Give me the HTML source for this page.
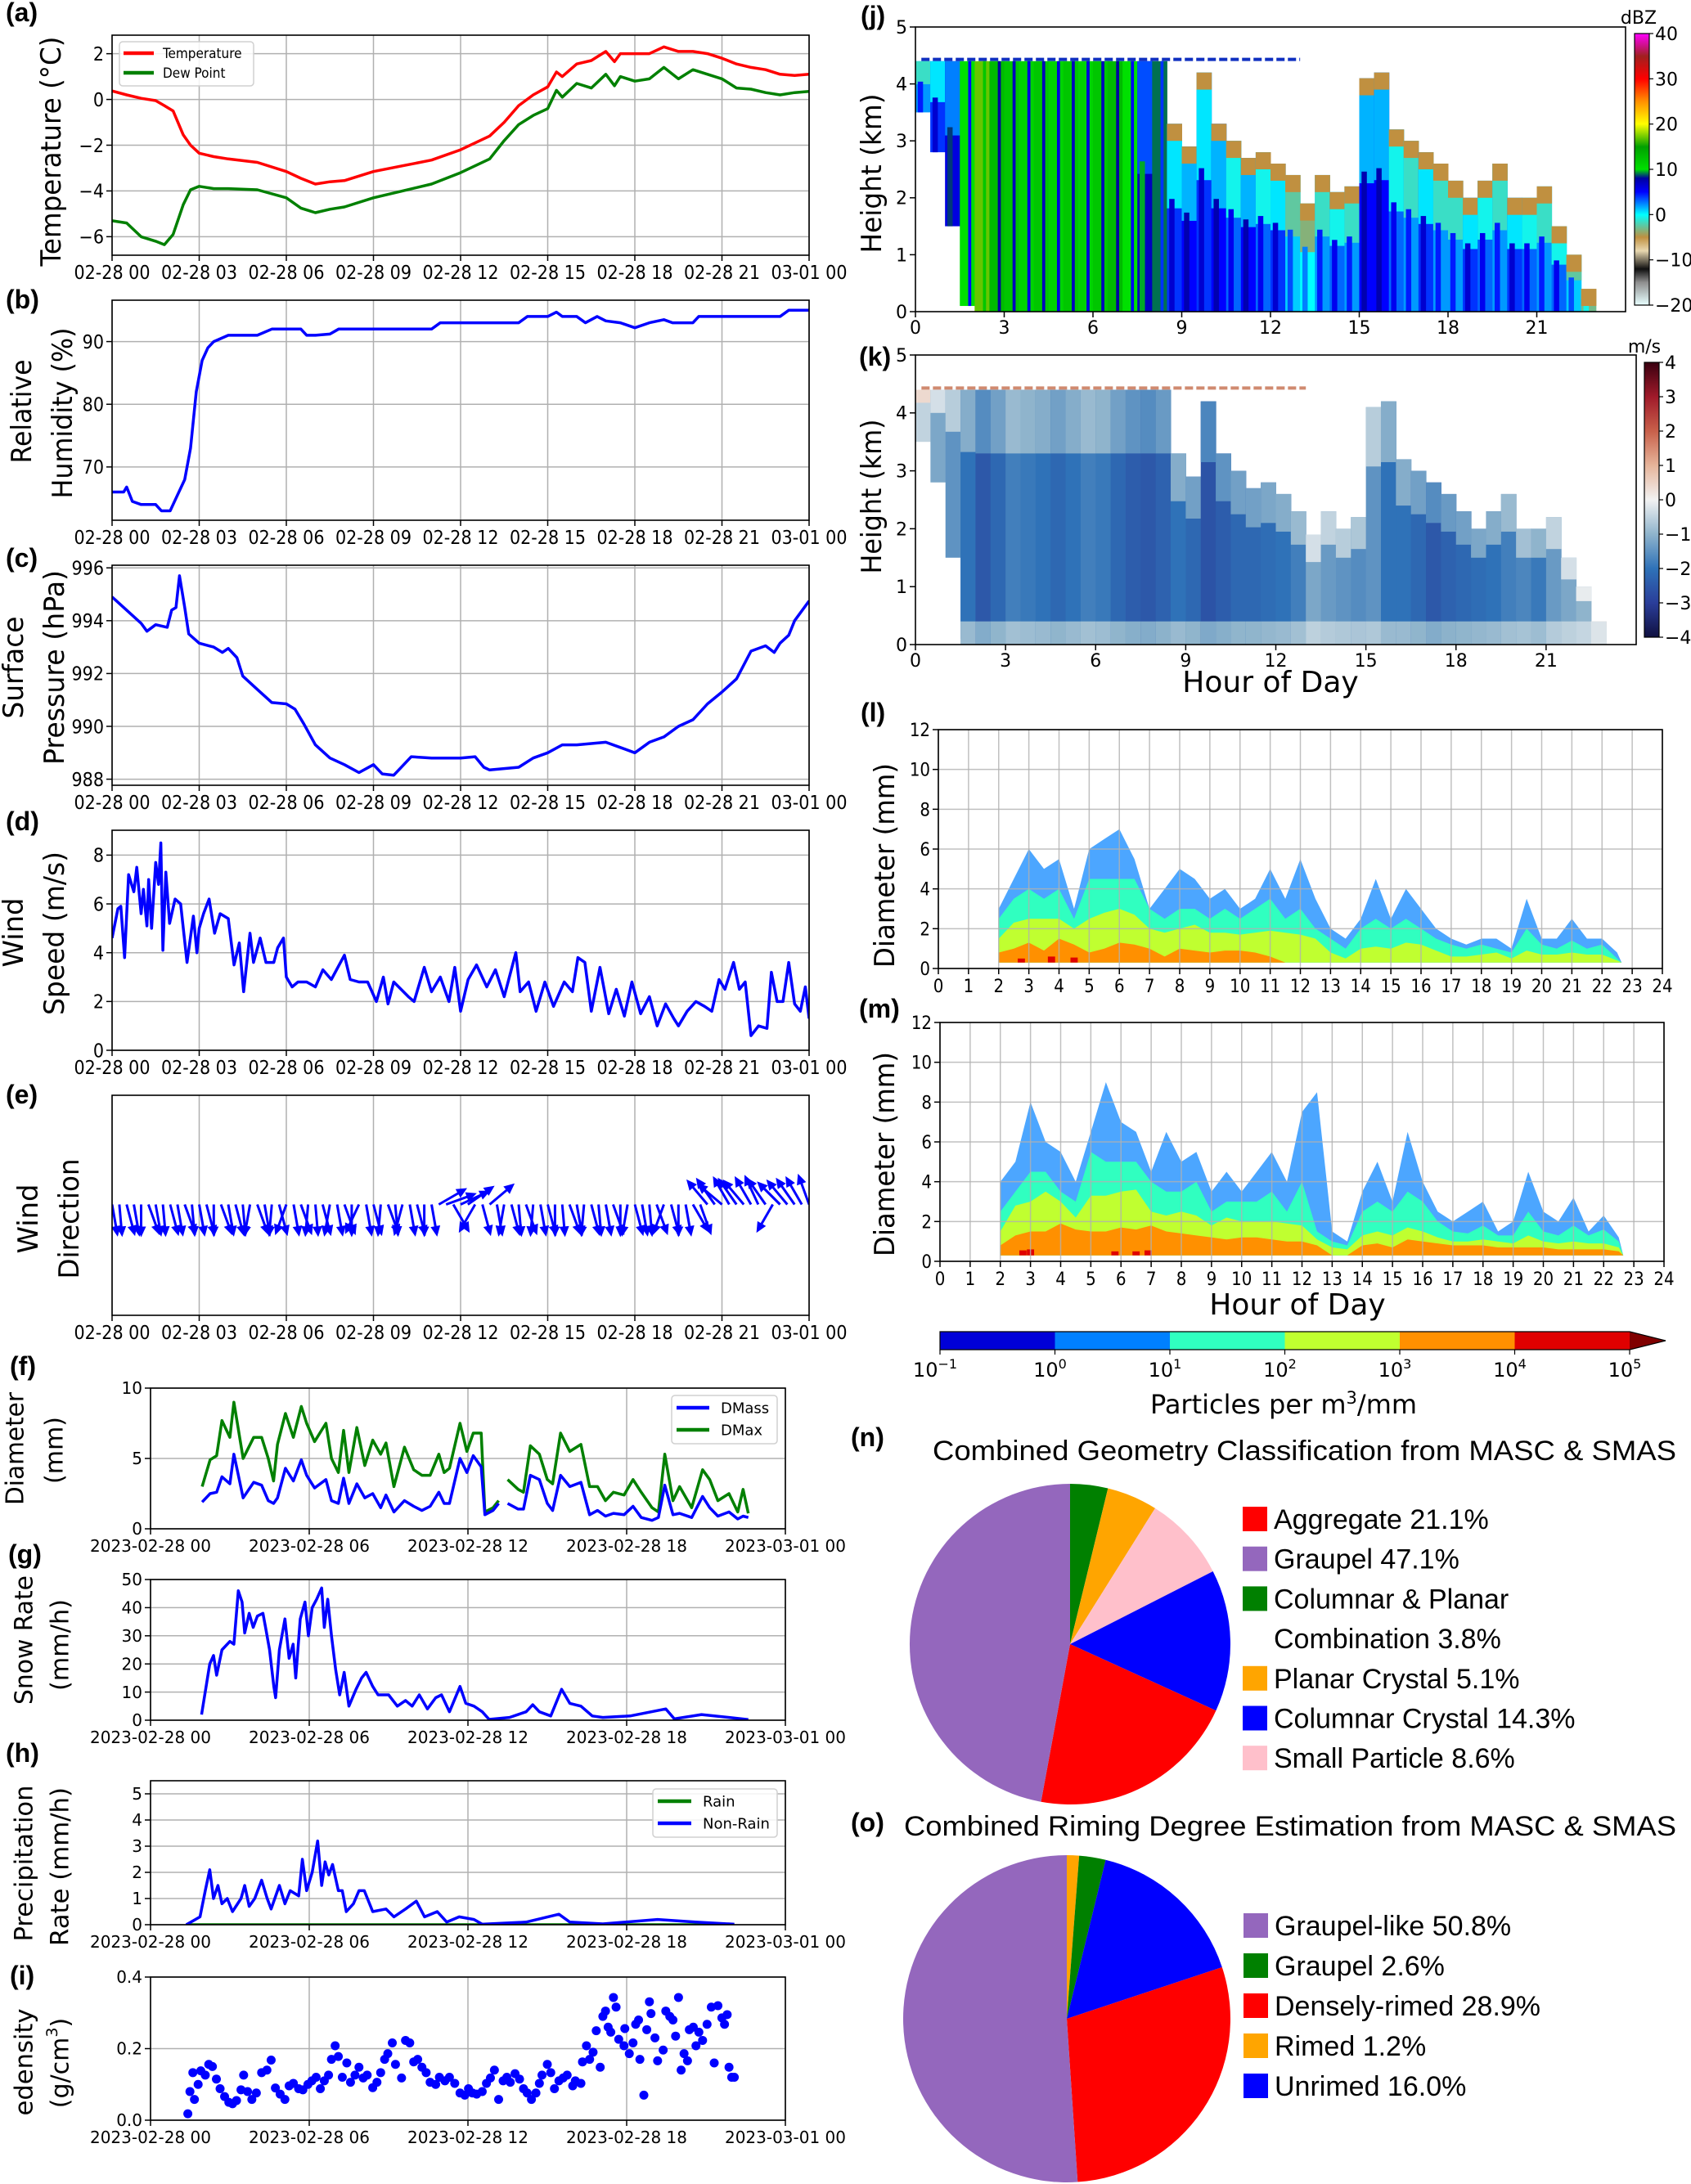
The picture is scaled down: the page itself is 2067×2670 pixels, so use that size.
<!DOCTYPE html>
<html><head><meta charset="utf-8">
<style>
html,body{margin:0;padding:0;background:#fff;}
svg{display:block;}
text{font-family:"DejaVu Sans","Liberation Sans",sans-serif;fill:#000;}
.cond{font-family:"Liberation Sans Narrow","DejaVu Sans Condensed","Liberation Sans",sans-serif;}
.cal{font-family:"Liberation Sans",sans-serif;}
.lbl{font-family:"Liberation Sans",sans-serif;font-weight:bold;}
</style></head>
<body>
<svg id="fig" xmlns="http://www.w3.org/2000/svg" width="2067" height="2670" viewBox="0 0 2067 2670"><defs id="defs"></defs><rect x="0" y="0" width="2067" height="2670" fill="#fff"/></svg>
<script>
// ---------------- DATA ----------------
const tA=[0,0.5,1,1.5,1.8,2.1,2.45,2.7,3,3.5,4,5,6,6.5,7,7.5,8,9,10,11,12,13,13.5,14,14.5,15,15.3,15.5,16,16.5,17,17.3,17.5,18,18.5,19,19.5,20,20.5,21,21.5,22,22.5,23,23.5,24];
const tempA=[0.37,0.2,0.05,-0.05,-0.27,-0.5,-1.55,-2.0,-2.35,-2.5,-2.6,-2.75,-3.15,-3.45,-3.7,-3.6,-3.55,-3.15,-2.9,-2.65,-2.2,-1.6,-1.0,-0.27,0.2,0.55,1.2,1.0,1.55,1.7,2.1,1.65,2.0,2.0,2.0,2.3,2.1,2.1,2.0,1.8,1.55,1.4,1.3,1.1,1.05,1.1];
const dewA=[-5.3,-5.4,-6.0,-6.2,-6.35,-5.9,-4.6,-3.95,-3.8,-3.9,-3.9,-3.95,-4.3,-4.75,-4.95,-4.8,-4.7,-4.3,-4.0,-3.7,-3.2,-2.6,-1.8,-1.1,-0.7,-0.4,0.4,0.1,0.7,0.5,1.1,0.6,1.0,0.8,0.9,1.4,0.9,1.3,1.1,0.9,0.5,0.45,0.3,0.2,0.3,0.35];
const tB=[0,0.4,0.5,0.7,1,1.5,1.7,2,2.2,2.5,2.7,2.9,3.1,3.3,3.5,4,5,5.5,6,6.5,6.7,7,7.5,7.8,11,11.3,14,14.3,15,15.3,15.5,16,16.3,16.7,17,17.5,18,18.5,19,19.3,20,20.2,23,23.3,24];
const rhB=[66,66,66.8,64.5,64,64,63,63,65,68,73,82,87,89,90,91,91,92,92,92,91,91,91.2,92,92,93,93,94,94,94.7,94,94,93,94,93.3,93,92.2,93,93.5,93,93,94,94,95,95];
const tC=[0,0.5,1,1.2,1.5,1.9,2.05,2.2,2.32,2.5,2.64,3,3.5,3.8,4,4.3,4.5,5,5.5,6,6.3,6.6,7,7.5,8,8.5,9,9.3,9.7,10,10.3,11,12,12.5,12.8,13,14,14.5,15,15.5,16,17,17.5,18,18.5,19,19.5,20,20.5,21,21.5,22,22.5,22.8,23,23.3,23.5,24];
const presC=[994.9,994.4,993.9,993.6,993.85,993.75,994.4,994.5,995.7,994.5,993.5,993.15,993.0,992.8,992.95,992.6,991.9,991.4,990.9,990.85,990.65,990.1,989.3,988.8,988.55,988.25,988.55,988.2,988.15,988.5,988.85,988.8,988.8,988.85,988.45,988.35,988.45,988.8,989.0,989.3,989.3,989.4,989.2,989.0,989.4,989.6,990.0,990.25,990.85,991.3,991.8,992.85,993.05,992.8,993.15,993.45,994.0,994.75];
const tD=[0,0.2,0.3,0.43,0.57,0.75,0.85,1.0,1.08,1.2,1.26,1.36,1.5,1.6,1.68,1.75,1.85,1.98,2.17,2.36,2.58,2.8,2.92,3.0,3.15,3.34,3.53,3.72,4.0,4.2,4.38,4.53,4.75,4.87,5.1,5.3,5.57,5.7,5.9,6.0,6.2,6.4,6.7,7.0,7.26,7.55,8.0,8.2,8.5,8.8,9.1,9.34,9.5,9.7,10.2,10.4,10.75,11.0,11.3,11.6,11.8,12.0,12.26,12.55,12.9,13.2,13.5,13.9,14.05,14.34,14.6,14.9,15.2,15.57,15.85,16.04,16.28,16.5,16.8,17.1,17.36,17.64,17.9,18.2,18.5,18.77,19.06,19.34,19.5,19.8,20.1,20.4,20.65,20.9,21.1,21.4,21.6,21.8,22.0,22.26,22.55,22.7,22.9,23.1,23.3,23.5,23.7,23.87,24];
const windD=[4.6,5.8,5.9,3.8,7.2,6.5,7.5,5.6,6.6,5.1,7.0,5.0,7.7,6.8,8.5,4.1,7.3,5.2,6.2,6.0,3.6,5.5,4.0,5.0,5.6,6.2,4.8,5.6,5.4,3.5,4.4,2.4,4.8,3.6,4.6,3.6,3.6,4.2,4.6,3.0,2.6,2.8,2.8,2.6,3.3,2.9,3.9,2.9,2.8,2.8,2.0,3.0,1.9,2.8,2.2,2.0,3.4,2.4,3.0,2.0,3.4,1.6,2.9,3.5,2.6,3.3,2.2,4.0,2.4,2.8,1.6,2.8,1.8,2.8,2.4,3.8,3.6,1.6,3.4,1.5,2.5,1.4,2.8,1.5,2.2,1.0,1.9,1.3,1.0,1.6,2.0,1.8,1.6,2.9,2.5,3.6,2.5,2.8,0.6,1.0,0.9,3.2,2.0,2.0,3.6,1.9,1.6,2.6,1.3];
const eStepHours=0.25;
const eArrowAngle=[80,85,75,80,90,70,80,85,75,80,70,85,80,75,90,70,80,75,85,100,70,80,95,75,110,80,70,95,85,75,100,80,70,90,115,80,75,95,70,85,105,80,75,90,80,
 -30,-20,60,-25,-35,120,75,-40,
 80,100,75,85,70,95,80,75,90,85,70,80,95,75,85,80,70,90,100,75,80,85,70,110,75,90,80,60,70,
 -130,-125,-140,-120,-125,-130,-120,-115,-125,120,-135,-130,-125,-120,-110];
const tF=[1.95,2.25,2.5,2.7,3.0,3.15,3.5,3.9,4.2,4.45,4.65,4.8,5.1,5.4,5.7,5.9,6.2,6.63,6.84,7.1,7.3,7.5,7.8,8.1,8.4,8.7,8.9,9.2,9.6,9.95,10.26,10.57,10.9,11.1,11.3,11.7,11.96,12.2,12.5,12.64,12.95,13.16,13.3,13.5,13.9,14.1,14.36,14.7,15.0,15.2,15.5,15.85,16.27,16.6,16.9,17.2,17.5,17.9,18.24,18.55,18.96,19.2,19.44,19.75,20.0,20.46,20.87,21.14,21.45,21.87,22.2,22.4,22.6];
const dmaxF=[3.0,4.9,5.2,7.7,6.5,9.0,5.0,6.5,6.5,5.0,3.4,6.0,8.2,6.5,8.7,7.5,6.2,7.5,5.0,4.0,7.0,4.0,7.2,4.5,6.3,5.3,6.1,3.0,5.8,4.2,3.8,3.8,5.3,4.0,4.3,7.5,5.5,6.8,6.8,1.2,1.5,2.0,null,3.5,2.8,2.6,5.9,5.3,3.5,3.2,6.8,5.5,6.0,3.0,3.0,2.0,2.6,2.4,3.5,2.6,1.5,1.2,5.3,2.0,3.0,1.5,4.2,3.5,2.0,2.5,1.2,2.8,1.1];
const dmassF=[1.9,2.5,2.6,3.7,3.2,5.3,2.2,3.3,3.1,2.0,1.8,2.2,4.3,3.4,4.9,3.8,2.9,3.5,2.0,1.8,3.6,1.8,3.2,2.2,2.5,1.5,2.4,1.2,2.0,1.6,1.3,1.6,2.6,1.8,1.8,5.0,4.0,5.2,4.4,1.0,1.3,1.8,null,1.8,1.4,1.4,3.8,3.5,1.8,1.3,3.8,3.0,3.3,1.0,1.3,0.9,1.1,1.0,1.6,0.8,0.6,0.8,3.1,1.0,1.1,0.8,2.3,1.5,0.9,1.2,0.7,0.9,0.8];
const tG=[1.93,2.24,2.38,2.5,2.7,3.0,3.15,3.32,3.46,3.56,3.73,3.88,4.04,4.25,4.35,4.5,4.66,4.73,4.87,5.08,5.24,5.39,5.49,5.66,5.84,5.97,6.11,6.28,6.47,6.57,6.7,6.84,7.0,7.15,7.32,7.5,7.77,7.98,8.15,8.4,8.6,9.0,9.33,9.64,9.89,10.16,10.47,10.78,11.0,11.3,11.7,11.92,12.23,12.54,12.8,13.57,14.2,14.45,14.7,15.13,15.54,15.85,16.27,16.7,17.1,18.13,19.48,19.8,20.83,21.87,22.6];
const snowG=[2,20,23,16,25,28,27,46,42,31,38,33,37,38,33,25,12,8,25,36,22,27,15,36,42,30,40,43,47,33,43,30,18,9,17,5,11,15,17,12,9,9,5,7,5,9,4,8,9,3,12,6,5,3,0.3,1,3,5.5,3,1.5,11,6,5,1.5,1,1.5,4,0.5,2,1,0.2];
const tH=[1.35,1.87,2.07,2.24,2.38,2.55,2.7,2.9,3.1,3.42,3.56,3.73,3.94,4.2,4.41,4.56,4.87,5.08,5.28,5.6,5.74,5.9,6.11,6.32,6.47,6.6,6.74,6.88,7.1,7.25,7.4,7.67,7.88,8.08,8.4,8.9,9.2,9.64,10.05,10.36,10.84,11.2,11.67,12.23,12.54,14.2,15.44,15.85,17.1,19.17,20.6,22.07];
const nonRainH=[0,0.3,1.3,2.1,1.0,1.5,0.8,1.0,0.5,1.0,1.5,0.7,1.0,1.7,1.0,0.6,1.5,0.8,1.3,1.1,2.5,1.3,2.0,3.2,1.5,2.4,1.9,2.3,1.3,1.3,0.5,0.8,1.3,1.3,0.5,0.6,0.3,0.6,0.9,0.3,0.5,0.1,0.3,0.2,0.02,0.1,0.4,0.1,0.03,0.2,0.1,0.02];
const tRain=[1.35,22.07];
const rainH=[0,0];
const tI=[1.41,1.49,1.6,1.66,1.8,1.9,2.07,2.2,2.34,2.49,2.63,2.8,2.96,3.1,3.25,3.42,3.52,3.67,3.83,4.0,4.2,4.4,4.56,4.72,4.9,5.08,5.24,5.4,5.6,5.76,5.95,6.1,6.26,6.42,6.57,6.73,6.84,6.98,7.1,7.25,7.42,7.56,7.73,7.88,8.04,8.19,8.4,8.56,8.7,8.85,8.97,9.14,9.26,9.49,9.64,9.8,9.95,10.1,10.26,10.42,10.57,10.78,10.92,11.13,11.3,11.5,11.7,11.88,12.02,12.17,12.33,12.54,12.7,12.85,13.0,13.16,13.33,13.47,13.6,13.78,13.95,14.1,14.24,14.4,14.57,14.7,14.8,15.0,15.13,15.27,15.44,15.6,15.75,15.96,16.06,16.27,16.33,16.48,16.6,16.73,16.85,17.0,17.1,17.2,17.3,17.4,17.5,17.6,17.7,17.9,17.93,18.1,18.24,18.34,18.45,18.5,18.65,18.76,18.86,18.92,19.07,19.17,19.38,19.48,19.63,19.75,19.85,19.96,20.06,20.17,20.3,20.37,20.52,20.62,20.73,20.87,21.04,21.2,21.31,21.45,21.6,21.7,21.8,21.87,21.97,22.07];
const densI=[0.018,0.08,0.133,0.058,0.10,0.138,0.126,0.156,0.15,0.115,0.088,0.066,0.05,0.046,0.055,0.085,0.126,0.08,0.058,0.076,0.133,0.14,0.168,0.09,0.073,0.058,0.096,0.103,0.088,0.085,0.1,0.11,0.12,0.088,0.11,0.126,0.17,0.208,0.178,0.12,0.16,0.106,0.126,0.148,0.118,0.126,0.091,0.106,0.133,0.17,0.186,0.216,0.156,0.118,0.223,0.216,0.163,0.17,0.148,0.133,0.106,0.1,0.12,0.11,0.12,0.103,0.076,0.07,0.088,0.076,0.073,0.08,0.103,0.118,0.14,0.058,0.11,0.12,0.106,0.13,0.115,0.088,0.076,0.058,0.076,0.103,0.126,0.156,0.133,0.088,0.11,0.118,0.126,0.096,0.11,0.103,0.163,0.208,0.17,0.19,0.25,0.148,0.29,0.305,0.26,0.246,0.343,0.316,0.226,0.208,0.256,0.186,0.216,0.268,0.28,0.17,0.07,0.253,0.331,0.298,0.23,0.166,0.196,0.305,0.29,0.28,0.235,0.343,0.14,0.186,0.166,0.253,0.26,0.208,0.246,0.223,0.268,0.316,0.16,0.32,0.286,0.268,0.295,0.148,0.12,0.12];
const radarStepHours=0.5;
const jTop=[4.4,4.4,4.4,4.4,4.4,4.4,4.4,4.4,4.4,4.4,4.4,4.4,4.4,4.4,4.4,4.4,4.4,3.3,2.9,4.2,3.3,3.0,2.7,2.8,2.6,2.4,1.9,2.4,2.1,2.2,4.1,4.2,3.2,3.0,2.8,2.6,2.3,2.0,2.3,2.6,2.0,2.0,2.2,1.5,1.0,0.4];
const jBot=[3.5,2.8,1.5,0.1,0,0,0,0,0,0,0,0,0,0,0,0,0,0,0,0,0,0,0,0,0,0,0,0,0,0,0,0,0,0,0,0,0,0,0,0,0,0,0,0,0,0];
const jDbz=[2,4,6,10,17,13,12,11,12,11,12,11,12,13,10,7,9,4,5,4,5,3,5,3,4,1,0,2,3,2,5,5,3,2,4,2,2,4,3,2,4,3,2,3,1,-3];
const kTop=[4.4,4.4,4.4,4.4,4.4,4.4,4.4,4.4,4.4,4.4,4.4,4.4,4.4,4.4,4.4,4.4,4.4,3.3,2.9,4.2,3.3,3.0,2.7,2.8,2.6,2.3,1.9,2.3,2.0,2.2,4.1,4.2,3.2,3.0,2.8,2.6,2.3,2.0,2.3,2.6,2.0,2.0,2.2,1.5,1.0,0.4];
const kBot=[3.5,2.8,1.5,0.1,0,0,0,0,0,0,0,0,0,0,0,0,0,0,0,0,0,0,0,0,0,0,0,0,0,0,0,0,0,0,0,0,0,0,0,0,0,0,0,0,0,0];
const kVel=[-0.5,-1.2,-1.5,-2.0,-2.5,-2.2,-1.8,-1.9,-2.0,-2.2,-2.0,-1.8,-1.9,-2.2,-2.4,-2.5,-2.3,-2.0,-2.2,-2.6,-2.4,-2.2,-2.2,-2.1,-2.0,-1.8,-1.2,-1.4,-1.5,-1.6,-1.5,-2.0,-2.0,-2.2,-2.5,-2.3,-2.2,-2.1,-2.0,-1.8,-1.7,-1.9,-1.4,-1.2,-1.0,-0.5];
const dbzStopV=[-20,-15,-12,-8,-5,0,5,8,10,15,20,25,30,35,40];
const dbzStopC=['#e8ffff','#909090','#101010','#e8d8b0','#c09040','#00ffff','#0000ff','#0000a0','#00e000','#00a000','#ffff00','#ff9000','#ff0000','#a02020','#ff00ff'];
const velStopV=[-4,-3,-2,-1,0,1,2,3,4];
const velStopC=['#101040','#2a3e9a','#2f72b8','#8fb4cc','#f2f2f2','#e6b49a','#c8604a','#a01a2a','#3a0010'];
const psdStart=2.0, psdStep=0.5;
const lBlue=[3,4.5,6,5,5.5,3,6,6.5,7,5.5,3,4,5,4.5,3.5,4,3,3.5,5,3.5,5.5,3.5,2,1.5,2.5,4.5,2.5,4,3,2,1.5,1.2,1.5,1.5,1.0,3.5,1.5,1.5,2.5,1.5,1.5,0.8];
const lCyan=[2.5,3.5,4,3.5,4,2.5,4.5,4.5,4.5,4.5,3,2.5,3,3,2.5,3,2.5,3,3.5,2.5,3,2,1.5,1.0,2.0,2.5,2,2.5,2,1.5,1.2,1.0,1.2,1.0,0.8,2.0,1.2,1.0,1.4,1.0,1.2,0.5];
const lYG=[1.5,2.3,2.5,2.5,2.5,2.0,2.5,2.8,3.0,2.7,2.0,1.8,2.0,2.2,1.8,1.8,1.7,1.8,1.9,1.8,1.7,1.5,0.8,0.5,1.0,1.1,1.0,1.3,1.2,0.9,0.6,0.6,0.7,0.8,0.5,0.9,0.7,0.7,0.8,0.7,0.7,0.4];
const lOrange=[0.8,1.0,1.3,0.9,1.5,1.2,0.8,1.0,1.3,1.2,1.0,0.6,1.0,0.9,0.8,0.9,0.9,0.8,0.6,0.3,0.3,0.3,0.3,0.3,0.3,0.3,0.3,0.3,0.3,0.3,0.3,0.3,0.3,0.3,0.3,0.3,0.3,0.3,0.3,0.3,0.3,0.3];
const lRedT=[2.75,3.75,4.5];
const lRedTop=[0.5,0.6,0.55];
const mBlue=[4,5,8,6,5.5,4,6.5,9,7,6.5,4.5,6.5,5,5.5,3.5,4.5,3.5,4.5,5.5,4,7.5,8.5,1.5,1.0,3.5,5,3,6.5,4,2.5,2,2.5,3.0,1.5,2,4.5,2.5,2,3.2,1.5,2.3,1.2];
const mCyan=[2.5,3.5,4.5,4.5,3.5,3,5.5,5,5,5,4,3.5,3.5,4,2.5,3,3,3,3.5,2.5,4,1.5,1.0,0.8,2.5,3,2.5,3.5,3,2.0,1.5,1.4,1.8,1.3,1.3,2.5,1.5,1.3,1.8,1.3,1.6,1.0];
const mYG=[1.5,2.8,3.0,3.5,3.0,2.2,3.3,3.3,3.5,3.6,2.5,2.3,2.5,2.3,1.8,2.2,2.0,2.0,2.0,1.9,1.8,1.1,0.7,0.6,1.3,1.5,1.3,1.7,1.5,1.2,1.0,1.0,1.1,1.0,0.9,1.3,1.0,0.9,1.0,0.9,0.9,0.7];
const mOrange=[0.8,1.3,1.5,1.5,1.9,1.6,1.5,1.5,1.7,1.6,1.8,1.5,1.4,1.3,1.2,1.1,1.2,1.2,1.1,1.0,1.0,0.8,0.3,0.3,0.8,0.9,0.7,1.1,1.0,0.9,0.8,0.8,0.8,0.7,0.7,0.7,0.7,0.6,0.6,0.6,0.6,0.5];
const mRedT=[2.75,3.0,5.8,6.5,6.9];
const mRedTop=[0.55,0.6,0.5,0.5,0.55];
const psdLevelColors=['#0000d8','#0080ff','#30ffc0','#c0ff30','#ff9000','#e00000'];
const psdLevelExp=['−1','0','1','2','3','4','5'];
const geomCats=['Aggregate','Graupel','Columnar & Planar\nCombination','Planar Crystal','Columnar Crystal','Small Particle'];
const geomVals=[21.1,47.1,3.8,5.1,14.3,8.6];
const geomColors=['#ff0000','#9467bd','#008000','#ffa500','#0000ff','#ffc0cb'];
const geomPieOrder=[2,3,5,4,0,1];
const rimeCats=['Graupel-like','Graupel','Densely-rimed','Rimed','Unrimed'];
const rimeVals=[50.8,2.6,28.9,1.2,16.0];
const rimeColors=['#9467bd','#008000','#ff0000','#ffa500','#0000ff'];
const rimePieOrder=[3,1,4,2,0];
const xLabelsTop=['02-28 00','02-28 03','02-28 06','02-28 09','02-28 12','02-28 15','02-28 18','02-28 21','03-01 00'];
const xLabelsLow=['2023-02-28 00','2023-02-28 06','2023-02-28 12','2023-02-28 18','2023-03-01 00'];

// ---------------- HELPERS ----------------
const NS='http://www.w3.org/2000/svg';
const svg=document.getElementById('fig');
const defs=document.getElementById('defs');
function mk(tag,attrs,parent,name){
  const el=document.createElementNS(NS,tag);
  for(const k in attrs) el.setAttribute(k,attrs[k]);
  
  
  (parent||svg).appendChild(el);
  return el;
}
function txt(parent,x,y,s,size,anchor,cls,name){
  const t=mk('text',{x:x,y:y,'font-size':size,'text-anchor':anchor||'start'},parent,name);
  if(cls) t.setAttribute('class',cls);
  t.textContent=s;
  return t;
}
function vtxt(parent,cx,cy,s,size,len,cls,name){
  const t=mk('text',{x:0,y:0,'font-size':size,'text-anchor':'middle','dominant-baseline':'central',transform:'translate('+cx+','+cy+') rotate(-90)'},parent,name);
  if(cls) t.setAttribute('class',cls);
  if(len){t.setAttribute('textLength',len);t.setAttribute('lengthAdjust','spacingAndGlyphs');}
  t.textContent=s;
  return t;
}
function hex2rgb(h){return [parseInt(h.substr(1,2),16),parseInt(h.substr(3,2),16),parseInt(h.substr(5,2),16)];}
function cmap(vs,cs,v){
  if(v<=vs[0]) return cs[0];
  if(v>=vs[vs.length-1]) return cs[cs.length-1];
  for(let i=0;i<vs.length-1;i++){
    if(v>=vs[i]&&v<=vs[i+1]){
      const f=(v-vs[i])/(vs[i+1]-vs[i]);const a=hex2rgb(cs[i]),b=hex2rgb(cs[i+1]);
      return 'rgb('+a.map((c,k)=>Math.round(c+(b[k]-c)*f)).join(',')+')';
    }
  }
}
function makeAxes(o){
  const g=mk('g',{},svg,o.name);
  const sx=v=>o.x+(v-o.xmin)/(o.xmax-o.xmin)*o.w;
  const sy=v=>o.y+o.h-(v-o.ymin)/(o.ymax-o.ymin)*o.h;
  const cp=mk('clipPath',{id:o.name+'-clip'},defs,o.name+'-clip-path');
  mk('rect',{x:o.x,y:o.y,width:o.w,height:o.h},cp,'clip-rect');
  const gridG=mk('g',{stroke:'#b0b0b0','stroke-width':1.5},g,o.name+'-grid');
  if(o.xgrid!==false) o.xticks.forEach(v=>mk('line',{x1:sx(v),x2:sx(v),y1:o.y,y2:o.y+o.h},gridG,'x-gridline'));
  if(o.ygrid!==false&&o.yticks) o.yticks.forEach(v=>mk('line',{x1:o.x,x2:o.x+o.w,y1:sy(v),y2:sy(v)},gridG,'y-gridline'));
  const data=mk('g',{'clip-path':'url(#'+o.name+'-clip)'},g,o.name+'-data');
  return {sx,sy,g,data,o,gridG};
}
function finishAxes(A){
  const o=A.o,g=A.g;
  if(o.gridTop){g.appendChild(A.gridG);A.gridG.setAttribute('stroke-opacity','0.8');}
  mk('rect',{x:o.x,y:o.y,width:o.w,height:o.h,fill:'none',stroke:'#000','stroke-width':1.6},g,o.name+'-frame');
  const tk=mk('g',{stroke:'#000','stroke-width':1.5},g,o.name+'-ticks');
  o.xticks.forEach((v,i)=>{
    mk('line',{x1:A.sx(v),x2:A.sx(v),y1:o.y+o.h,y2:o.y+o.h+7},tk,'x-tick');
    if(o.xlabels) txt(g,A.sx(v),o.y+o.h+o.xlabOff,o.xlabels[i],o.fs,'middle',o.cls,'x-tick-label');
  });
  if(o.yticks) o.yticks.forEach((v,i)=>{
    mk('line',{x1:o.x-7,x2:o.x,y1:A.sy(v),y2:A.sy(v)},tk,'y-tick');
    txt(g,o.x-10,A.sy(v)+o.fs*0.36,o.ylabels[i],o.fs,'end',o.cls,'y-tick-label');
  });
}
function linePath(A,ts,vs,color,width,name){
  let d='',pen=false;
  ts.forEach((t,i)=>{const v=vs[i];if(v===null){pen=false;return;}d+=(pen?'L':'M')+A.sx(t).toFixed(1)+','+A.sy(v).toFixed(1);pen=true;});
  return mk('path',{d:d,fill:'none',stroke:color,'stroke-width':width,'stroke-linejoin':'round'},A.data,name);
}
function panelLabel(x,y,s){txt(svg,x,y+11,s,32,'start','lbl','panel-label-'+s.replace(/[()]/g,''));}
function legendBox(x,y,w,h,items,fs,cls,name){
  const g=mk('g',{},svg,name);
  mk('rect',{x:x,y:y,width:w,height:h,rx:4,fill:'#fff','fill-opacity':0.85,stroke:'#d0d0d0','stroke-width':1.5},g,'legend-frame');
  items.forEach(it=>{
    mk('line',{x1:it.x1,x2:it.x2,y1:it.y,y2:it.y,stroke:it.c,'stroke-width':4.5},g,'legend-line');
    txt(g,it.tx,it.y+fs*0.36,it.s,fs,'start',cls,'legend-entry');
  });
}
const hrs3=[0,3,6,9,12,15,18,21,24];
const hrs6=[0,6,12,18,24];

// ---------------- (a)-(e) ----------------
const topCfg={x:137,w:852,h:269,xmin:0,xmax:24,xticks:hrs3,xlabels:xLabelsTop,xlabOff:29,fs:23,cls:'cond'};
const A=makeAxes(Object.assign({},topCfg,{name:'panel-a',y:43,ymin:-6.81,ymax:2.81,yticks:[-6,-4,-2,0,2],ylabels:['−6','−4','−2','0','2']}));
linePath(A,tA,tempA,'#ff0000',3.5,'temperature-line');
linePath(A,tA,dewA,'#008000',3.5,'dew-point-line');
finishAxes(A);
legendBox(146,51,164,54,[{x1:151,x2:188,y:65,tx:199,s:'Temperature',c:'#ff0000'},{x1:151,x2:188,y:89,tx:199,s:'Dew Point',c:'#008000'}],17,'cond','legend-a');
vtxt(svg,63,185,'Temperature (°C)',34,281,null,'y-axis-title-a');
panelLabel(7,15,'(a)');

const B=makeAxes(Object.assign({},topCfg,{name:'panel-b',y:367,ymin:61.5,ymax:96.6,yticks:[70,80,90],ylabels:['70','80','90']}));
linePath(B,tB,rhB,'#0000ff',3.5,'humidity-line');
finishAxes(B);
vtxt(svg,27,503,'Relative',34,127,null,'y-axis-title-b1');
vtxt(svg,77,505,'Humidity (%)',34,209,null,'y-axis-title-b2');
panelLabel(7,366,'(b)');

const C=makeAxes(Object.assign({},topCfg,{name:'panel-c',y:691,ymin:987.77,ymax:996.1,yticks:[988,990,992,994,996],ylabels:['988','990','992','994','996']}));
linePath(C,tC,presC,'#0000ff',3.5,'pressure-line');
finishAxes(C);
vtxt(svg,17,816,'Surface',34,125,null,'y-axis-title-c1');
vtxt(svg,67,816,'Pressure (hPa)',34,238,null,'y-axis-title-c2');
panelLabel(7,682,'(c)');

const D=makeAxes(Object.assign({},topCfg,{name:'panel-d',y:1015,ymin:0,ymax:9.02,yticks:[0,2,4,6,8],ylabels:['0','2','4','6','8']}));
linePath(D,tD,windD,'#0000ff',3.5,'wind-speed-line');
finishAxes(D);
vtxt(svg,17,1140,'Wind',34,85,null,'y-axis-title-d1');
vtxt(svg,67,1141,'Speed (m/s)',34,200,null,'y-axis-title-d2');
panelLabel(7,1004,'(d)');

const E=makeAxes(Object.assign({},topCfg,{name:'panel-e',y:1339,ymin:-1,ymax:1,yticks:null,ygrid:false}));
eArrowAngle.forEach((ang,i)=>{
  const t=i*eStepHours;const x0=E.sx(t),y0=E.sy(0)-1;const L=40;
  const a=ang*Math.PI/180;const ux=Math.cos(a),uy=Math.sin(a),px=-uy,py=ux;
  const hx=x0+ux*L,hy=y0+uy*L,bx=x0+ux*(L-13),by=y0+uy*(L-13);
  const pts=[[x0+px*1.5,y0+py*1.5],[bx+px*1.5,by+py*1.5],[bx+px*6,by+py*6],[hx,hy],[bx-px*6,by-py*6],[bx-px*1.5,by-py*1.5],[x0-px*1.5,y0-py*1.5]];
  mk('polygon',{points:pts.map(p=>p[0].toFixed(1)+','+p[1].toFixed(1)).join(' '),fill:'#0000ff'},E.data,'wind-arrow');
});
finishAxes(E);
vtxt(svg,35,1490,'Wind',34,85,null,'y-axis-title-e1');
vtxt(svg,85,1490,'Direction',34,147,null,'y-axis-title-e2');
panelLabel(7,1338,'(e)');

// ---------------- (f)-(i) ----------------
const lowCfg={x:184,w:776,xmin:0,xmax:24,xticks:hrs6,xlabels:xLabelsLow,xlabOff:28,fs:20,cls:null};
const F=makeAxes(Object.assign({},lowCfg,{name:'panel-f',y:1697,h:172,ymin:0,ymax:10,yticks:[0,5,10],ylabels:['0','5','10']}));
linePath(F,tF,dmaxF,'#008000',3.5,'dmax-line');
linePath(F,tF,dmassF,'#0000ff',3.5,'dmass-line');
finishAxes(F);
legendBox(821,1706,129,59,[{x1:827,x2:867,y:1721,tx:881,s:'DMass',c:'#0000ff'},{x1:827,x2:867,y:1748,tx:881,s:'DMax',c:'#008000'}],18,null,'legend-f');
vtxt(svg,19,1771,'Diameter',30,138,null,'y-axis-title-f1');
vtxt(svg,67,1773,'(mm)',30,82,null,'y-axis-title-f2');
panelLabel(12,1670,'(f)');

const G=makeAxes(Object.assign({},lowCfg,{name:'panel-g',y:1931,h:172,ymin:0,ymax:50,yticks:[0,10,20,30,40,50],ylabels:['0','10','20','30','40','50']}));
linePath(G,tG,snowG,'#0000ff',3.5,'snow-rate-line');
finishAxes(G);
vtxt(svg,30,2005,'Snow Rate',30,158,null,'y-axis-title-g1');
vtxt(svg,74,2011,'(mm/h)',30,112,null,'y-axis-title-g2');
panelLabel(10,1900,'(g)');

const H=makeAxes(Object.assign({},lowCfg,{name:'panel-h',y:2177,h:176,ymin:0,ymax:5.5,yticks:[0,1,2,3,4,5],ylabels:['0','1','2','3','4','5']}));
linePath(H,tRain,rainH,'#008000',3.5,'rain-line');
linePath(H,tH,nonRainH,'#0000ff',3.5,'non-rain-line');
finishAxes(H);
legendBox(798,2187,152,59,[{x1:804,x2:845,y:2202,tx:859,s:'Rain',c:'#008000'},{x1:804,x2:845,y:2229,tx:859,s:'Non-Rain',c:'#0000ff'}],18,null,'legend-h');
vtxt(svg,30,2278,'Precipitation',30,191,null,'y-axis-title-h1');
vtxt(svg,74,2282,'Rate (mm/h)',30,194,null,'y-axis-title-h2');
panelLabel(7,2143,'(h)');

const I=makeAxes(Object.assign({},lowCfg,{name:'panel-i',y:2417,h:175,ymin:0,ymax:0.4,yticks:[0,0.2,0.4],ylabels:['0.0','0.2','0.4']}));
tI.forEach((t,i)=>{mk('circle',{cx:I.sx(t),cy:I.sy(densI[i]),r:5.5,fill:'#0000ff'},I.data,'density-point');});
finishAxes(I);
vtxt(svg,30,2521,'edensity',30,131,null,'y-axis-title-i1');
(function(){const t=vtxt(svg,74,2522,'(g/cm',30,null,null,'y-axis-title-i2');const s=document.createElementNS(NS,'tspan');s.setAttribute('dy','-10');s.setAttribute('font-size','19');s.textContent='3';t.appendChild(s);const s2=document.createElementNS(NS,'tspan');s2.setAttribute('dy','10');s2.textContent=')';t.appendChild(s2);})();
panelLabel(12,2415,'(i)');

// ---------------- (j) ----------------
const J=makeAxes({name:'panel-j',x:1119,y:33,w:868,h:348,xmin:0,xmax:24,ymin:0,ymax:5,xticks:[0,3,6,9,12,15,18,21],xlabels:['0','3','6','9','12','15','18','21'],xlabOff:27,yticks:[0,1,2,3,4,5],ylabels:['0','1','2','3','4','5'],fs:22,cls:null,xgrid:false,ygrid:false});
jDbz.forEach((z,i)=>{
  const t0=i*radarStepHours,t1=t0+radarStepHours;const top=jTop[i],bot=jBot[i];
  const x=J.sx(t0),w=J.sx(t1)-x+0.5;
  mk('rect',{x:x,y:J.sy(top),width:w,height:J.sy(bot)-J.sy(top),fill:cmap(dbzStopV,dbzStopC,z)},J.data,'reflectivity-column');
  const span=top-bot;
  if(z<9){
    mk('rect',{x:x,y:J.sy(top),width:w,height:J.sy(top-span*0.45)-J.sy(top),fill:cmap(dbzStopV,dbzStopC,z-3.5)},J.data,'reflectivity-upper');
    mk('rect',{x:x+w*0.15,y:J.sy(bot+span*0.6),width:w*0.35,height:J.sy(bot)-J.sy(bot+span*0.6),fill:cmap(dbzStopV,dbzStopC,z+2.5)},J.data,'reflectivity-streak');
    if(top<4.3) mk('rect',{x:x,y:J.sy(top),width:w,height:J.sy(top-0.3)-J.sy(top),fill:cmap(dbzStopV,dbzStopC,-5)},J.data,'reflectivity-fringe');
  } else {
    mk('rect',{x:x+w*0.55,y:J.sy(top),width:w*0.2,height:J.sy(bot)-J.sy(top),fill:cmap(dbzStopV,dbzStopC,z-5)},J.data,'reflectivity-streak');
  }
});
mk('line',{x1:J.sx(0.2),x2:J.sx(13),y1:J.sy(4.43),y2:J.sy(4.43),stroke:'#1030c0','stroke-width':4,'stroke-dasharray':'10 4'},J.data,'reflectivity-top-speckle');
finishAxes(J);
vtxt(svg,1066,212,'Height (km)',34,195,null,'y-axis-title-j');
panelLabel(1052,19,'(j)');
(function(){
  const lg=mk('linearGradient',{id:'dbzGrad',x1:0,y1:0,x2:0,y2:1},defs,'dbz-gradient');
  for(let i=dbzStopV.length-1;i>=0;i--) mk('stop',{offset:((40-dbzStopV[i])/60).toFixed(3),'stop-color':dbzStopC[i]},lg,'gradient-stop');
  const g=mk('g',{},svg,'colorbar-j');
  mk('rect',{x:1998,y:41,width:18,height:332,fill:'url(#dbzGrad)',stroke:'#000','stroke-width':1.2},g,'colorbar-j-bar');
  [40,30,20,10,0,-10,-20].forEach(v=>{const y=373-(v+20)/60*332;mk('line',{x1:2016,x2:2021,y1:y,y2:y,stroke:'#000','stroke-width':1.2},g,'colorbar-tick');txt(g,2023,y+8,(v<0?'−':'')+Math.abs(v),22,'start',null,'colorbar-tick-label');});
  txt(g,2003,29,'dBZ',22,'middle',null,'colorbar-j-unit');
})();

// ---------------- (k) ----------------
const K=makeAxes({name:'panel-k',x:1119,y:434,w:881,h:354,xmin:0,xmax:24,ymin:0,ymax:5,xticks:[0,3,6,9,12,15,18,21],xlabels:['0','3','6','9','12','15','18','21'],xlabOff:27,yticks:[0,1,2,3,4,5],ylabels:['0','1','2','3','4','5'],fs:22,cls:null,xgrid:false,ygrid:false});
kVel.forEach((v,i)=>{
  const t0=i*radarStepHours,t1=t0+radarStepHours;const top=kTop[i],bot=kBot[i];
  const x=K.sx(t0),w=K.sx(t1)-x+0.5;
  mk('rect',{x:x,y:K.sy(top),width:w,height:K.sy(bot)-K.sy(top),fill:cmap(velStopV,velStopC,v)},K.data,'velocity-column');
  mk('rect',{x:x,y:K.sy(top),width:w,height:(K.sy(bot)-K.sy(top))*0.25,fill:cmap(velStopV,velStopC,v+0.9)},K.data,'velocity-upper');
  if(bot<0.5) mk('rect',{x:x,y:K.sy(0.4),width:w,height:K.sy(0)-K.sy(0.4),fill:cmap(velStopV,velStopC,v*0.45)},K.data,'velocity-near-ground');
});
mk('line',{x1:K.sx(0.2),x2:K.sx(13),y1:K.sy(4.43),y2:K.sy(4.43),stroke:'#d08a70','stroke-width':4,'stroke-dasharray':'10 4'},K.data,'velocity-top-speckle');
finishAxes(K);
vtxt(svg,1066,607,'Height (km)',34,189,null,'y-axis-title-k');
txt(svg,1553,846,'Hour of Day',36,'middle',null,'x-axis-title-k');
panelLabel(1050,436,'(k)');
(function(){
  const lg=mk('linearGradient',{id:'velGrad',x1:0,y1:0,x2:0,y2:1},defs,'vel-gradient');
  for(let i=velStopV.length-1;i>=0;i--) mk('stop',{offset:((4-velStopV[i])/8).toFixed(3),'stop-color':velStopC[i]},lg,'gradient-stop');
  const g=mk('g',{},svg,'colorbar-k');
  mk('rect',{x:2010,y:443,width:18,height:336,fill:'url(#velGrad)',stroke:'#000','stroke-width':1.2},g,'colorbar-k-bar');
  [4,3,2,1,0,-1,-2,-3,-4].forEach(v=>{const y=779-(v+4)/8*336;mk('line',{x1:2028,x2:2033,y1:y,y2:y,stroke:'#000','stroke-width':1.2},g,'colorbar-tick');txt(g,2035,y+8,(v<0?'−':'')+Math.abs(v),22,'start',null,'colorbar-tick-label');});
  txt(g,2010,431,'m/s',22,'middle',null,'colorbar-k-unit');
})();

// ---------------- (l)(m) ----------------
function psdPanel(name,y,layers,redT,redTop){
  const P=makeAxes({name:name,x:1147+(name==='panel-m'?2:0),y:y,w:885,h:292,xmin:0,xmax:24,ymin:0,ymax:12,xticks:[0,1,2,3,4,5,6,7,8,9,10,11,12,13,14,15,16,17,18,19,20,21,22,23,24],xlabels:['0','1','2','3','4','5','6','7','8','9','10','11','12','13','14','15','16','17','18','19','20','21','22','23','24'],xlabOff:29,yticks:[0,2,4,6,8,10,12],ylabels:['0','2','4','6','8','10','12'],fs:22,cls:'cond',gridTop:true});
  layers.forEach((arr,li)=>{
    const n=arr.length;let pts=[[P.sx(psdStart),P.sy(0.3)]];
    arr.forEach((v,i)=>{pts.push([P.sx(psdStart+i*psdStep),P.sy(v)]);});
    pts.push([P.sx(psdStart+(n-1)*psdStep+0.15),P.sy(0.3)]);
    const poly=mk('polygon',{points:pts.map(p=>p[0].toFixed(1)+','+p[1].toFixed(1)).join(' '),fill:psdLevelColors[li+1]},P.data,'psd-level-'+(li+1));
    if(li===0) poly.setAttribute('fill-opacity','0.7');
  });
  redT.forEach((t,i)=>{mk('rect',{x:P.sx(t-0.12),y:P.sy(redTop[i]),width:P.sx(0.24)-P.sx(0),height:P.sy(0.3)-P.sy(redTop[i]),fill:psdLevelColors[5]},P.data,'psd-red-spot');});
  finishAxes(P);
  return P;
}
psdPanel('panel-l',892,[lBlue,lCyan,lYG,lOrange],lRedT,lRedTop);
vtxt(svg,1082,1058,'Diameter (mm)',34,250,null,'y-axis-title-l');
panelLabel(1052,871,'(l)');
psdPanel('panel-m',1250,[mBlue,mCyan,mYG,mOrange],mRedT,mRedTop);
vtxt(svg,1082,1411,'Diameter (mm)',34,250,null,'y-axis-title-m');
txt(svg,1586,1607,'Hour of Day',36,'middle',null,'x-axis-title-m');
panelLabel(1050,1233,'(m)');
(function(){
  const g=mk('g',{},svg,'colorbar-psd');
  const x0=1149,x1=1992,w=(x1-x0)/6;
  psdLevelColors.forEach((c,i)=>mk('rect',{x:x0+i*w,y:1628,width:w+0.5,height:22,fill:c},g,'colorbar-psd-segment'));
  mk('polygon',{points:x1+',1628 2036,1639 '+x1+',1650',fill:'#800000'},g,'colorbar-psd-extend-arrow');
  mk('polygon',{points:x0+',1628 '+x1+',1628 2036,1639 '+x1+',1650 '+x0+',1650',fill:'none',stroke:'#000','stroke-width':1.2},g,'colorbar-psd-outline');
  psdLevelExp.forEach((e,i)=>{
    const x=x0+i*w;mk('line',{x1:x,x2:x,y1:1650,y2:1656,stroke:'#000','stroke-width':1.2},g,'colorbar-tick');
    const t=txt(g,x-6,1683,'10',24,'middle',null,'colorbar-tick-label');
    const s=document.createElementNS(NS,'tspan');s.setAttribute('dy','-10');s.setAttribute('font-size','16');s.textContent=e;t.appendChild(s);
  });
  const t=txt(g,1569,1728,'Particles per m',32,'middle',null,'colorbar-psd-title');
  const s=document.createElementNS(NS,'tspan');s.setAttribute('dy','-12');s.setAttribute('font-size','21');s.textContent='3';t.appendChild(s);
  const s2=document.createElementNS(NS,'tspan');s2.setAttribute('dy','12');s2.textContent='/mm';t.appendChild(s2);
})();

// ---------------- pies ----------------
function pie(cx,cy,r,vals,colors,order,name){
  const g=mk('g',{},svg,name);
  const total=vals.reduce((a,b)=>a+b,0);let ang=-90;
  order.forEach(idx=>{
    const sweep=vals[idx]/total*360;const a0=ang*Math.PI/180,a1=(ang+sweep)*Math.PI/180;
    const d='M'+cx+','+cy+' L'+(cx+r*Math.cos(a0)).toFixed(2)+','+(cy+r*Math.sin(a0)).toFixed(2)+' A'+r+','+r+' 0 '+(sweep>180?1:0)+' 1 '+(cx+r*Math.cos(a1)).toFixed(2)+','+(cy+r*Math.sin(a1)).toFixed(2)+' Z';
    mk('path',{d:d,fill:colors[idx]},g,'pie-slice');
    ang+=sweep;
  });
}
function pieLegend(x,y0,step,cats,vals,colors,name){
  const g=mk('g',{},svg,name);let line=0;
  cats.forEach((c,i)=>{
    const parts=c.split('\n');const y=y0+line*step;
    mk('rect',{x:x,y:y-15,width:30,height:30,fill:colors[i]},g,'legend-swatch');
    parts.forEach((p,k)=>{const s=(k===parts.length-1)?p+' '+vals[i].toFixed(1)+'%':p;txt(g,x+38,y+12+k*step,s,34,'start','cal','legend-entry');});
    line+=parts.length;
  });
}
pie(1308,2010,196,geomVals,geomColors,geomPieOrder,'pie-geometry');
pieLegend(1519,1857,48.7,geomCats,geomVals,geomColors,'legend-geometry');
(function(){const t=txt(svg,1140,1785,'Combined Geometry Classification from MASC & SMAS',34,'start','cal','pie-title-n');t.setAttribute('textLength','909');t.setAttribute('lengthAdjust','spacingAndGlyphs');})();
panelLabel(1040,1757,'(n)');
pie(1304,2468,200,rimeVals,rimeColors,rimePieOrder,'pie-riming');
pieLegend(1520,2354,49,rimeCats,rimeVals,rimeColors,'legend-riming');
(function(){const t=txt(svg,1105,2244,'Combined Riming Degree Estimation from MASC & SMAS',34,'start','cal','pie-title-o');t.setAttribute('textLength','944');t.setAttribute('lengthAdjust','spacingAndGlyphs');})();
panelLabel(1040,2228,'(o)');
</script>
</body></html>
